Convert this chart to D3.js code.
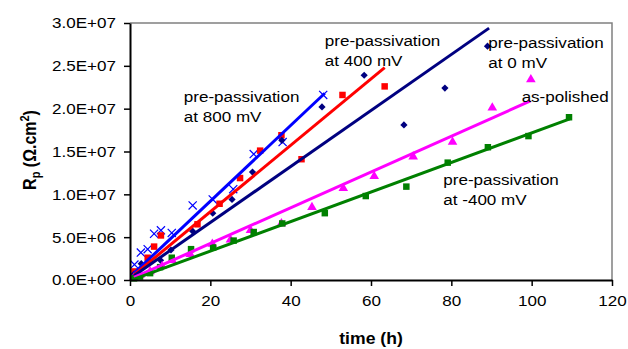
<!DOCTYPE html>
<html>
<head>
<meta charset="utf-8">
<script src="https://cdn.jsdelivr.net/npm/d3@7"></script>
<style>
  body { margin: 0; background: #fff; }
  svg { display: block; font-family: "Liberation Sans", Arial, sans-serif; }
</style>
</head>
<body>
<div id="viz"></div>
<script>
// time (h) / Rp (ohm.cm2)
let p800X = [1.1, 2.7, 4.4, 6.0, 7.7, 10.4, 15.6, 20.6, 25.7, 30.8, 38.0, 48.1];
let p800Y = [1.8e6, 3.2e6, 3.6e6, 5.4e6, 5.8e6, 5.5e6, 8.7e6, 9.4e6, 10.6e6, 14.7e6, 16.1e6, 21.6e6];

let p400X = [1.1, 4.4, 6.0, 7.7, 16.8, 22.3, 27.4, 32.4, 37.7, 42.7, 52.9, 63.4];
let p400Y = [1.0e6, 2.6e6, 3.9e6, 5.2e6, 6.5e6, 8.9e6, 11.9e6, 15.1e6, 16.9e6, 14.1e6, 21.6e6, 22.6e6];

let p0X = [1.0, 2.8, 5.0, 7.6, 10.2, 15.6, 20.6, 25.4, 30.5, 37.8, 47.8, 58.3, 68.2, 78.4, 89.0];
let p0Y = [0.7e6, 1.9e6, 2.2e6, 2.3e6, 3.5e6, 5.7e6, 7.8e6, 9.4e6, 12.6e6, 16.3e6, 20.2e6, 23.9e6, 18.1e6, 22.4e6, 27.3e6];

let polX = [1.0, 2.5, 5.0, 8.0, 10.5, 15.0, 20.5, 25.0, 30.0, 37.7, 45.3, 53.1, 60.8, 70.5, 80.3, 90.2, 99.8];
let polY = [0.3e6, 0.6e6, 1.0e6, 1.6e6, 2.3e6, 3.0e6, 4.2e6, 4.7e6, 5.8e6, 6.6e6, 8.5e6, 10.7e6, 12.1e6, 14.4e6, 16.1e6, 20.1e6, 23.4e6];

let m400X = [1.0, 2.5, 5.0, 7.5, 10.4, 15.2, 20.7, 25.8, 30.8, 37.9, 48.5, 58.7, 68.8, 79.1, 89.1, 99.2, 109.3];
let m400Y = [0.2e6, 0.4e6, 0.8e6, 1.5e6, 2.6e6, 3.6e6, 3.8e6, 4.6e6, 5.6e6, 6.6e6, 7.8e6, 9.8e6, 10.9e6, 13.7e6, 15.5e6, 16.8e6, 19.0e6];

// trend lines: [x start, y start, x end, y end]
let trend800 = [1, 0.8e6, 48.5, 21.8e6];
let trend400 = [1, 0.6e6, 63.4, 24.8e6];
let trend0 = [1, 0.5e6, 89.4, 29.4e6];
let trendPol = [1, 0.3e6, 99.7, 20.9e6];
let trendM400 = [1, 0.1e6, 109.5, 18.8e6];

let xTicks = [0, 20, 40, 60, 80, 100, 120];
let yTicks = [0, 5e6, 10e6, 15e6, 20e6, 25e6, 30e6];

let notes = [
  {x: 13.4, y: 21.4e6, lines: ['pre-passivation', 'at 800 mV']},
  {x: 48.5, y: 28.0e6, lines: ['pre-passivation', 'at 400 mV']},
  {x: 89.2, y: 27.7e6, lines: ['pre-passivation', 'at 0 mV']},
  {x: 97.5, y: 21.4e6, lines: ['as-polished']},
  {x: 78.0, y: 11.7e6, lines: ['pre-passivation', 'at -400 mV']}
];

let width = 628, height = 349;
let sx = 1.1; // the picture is a bit wider than tall
let fs = 15.5;

let x = d3.scaleLinear().domain([0, 120]).range([130, 612]);
let y = d3.scaleLinear().domain([0, 3e7]).range([280, 23]);

let svg = d3.select('#viz').append('svg')
  .attr('width', width)
  .attr('height', height);

// plot frame (gray top/right)
svg.append('path')
  .attr('d', `M${x(0)},${y(3e7)}H${x(120)}V${y(0)}`)
  .attr('fill', 'none')
  .attr('stroke', '#808080')
  .attr('stroke-width', 1.5);

let series = [
  {xs: p800X, ys: p800Y, t: trend800, color: '#0000ff', mark: 'cross'},
  {xs: p400X, ys: p400Y, t: trend400, color: '#ff0000', mark: 'square'},
  {xs: p0X, ys: p0Y, t: trend0, color: '#000080', mark: 'diamond'},
  {xs: polX, ys: polY, t: trendPol, color: '#ff00ff', mark: 'triangle'},
  {xs: m400X, ys: m400Y, t: trendM400, color: '#008000', mark: 'square'}
];

let symbols = {
  square: d3.symbol().type(d3.symbolSquare).size(42),
  diamond: d3.symbol().type(d3.symbolSquare).size(26),
  triangle: d3.symbol().type(d3.symbolTriangle).size(40),
  cross: d3.symbol().type(d3.symbolX).size(45)
};

series.forEach(function(s) {
  let pts = s.xs.map(function(v, i) { return [v, s.ys[i]]; });
  let g = svg.append('g');
  g.selectAll('path').data(pts)
    .enter().append('path')
      .attr('transform', function(d) {
        return 'translate(' + x(d[0]) + ',' + y(d[1]) + ')' + (s.mark == 'diamond' ? ' rotate(45)' : '');
      })
      .attr('d', symbols[s.mark])
      .attr('fill', s.mark == 'cross' ? 'none' : s.color)
      .attr('stroke', s.mark == 'cross' ? s.color : 'none')
      .attr('stroke-width', 1.2);
});

series.forEach(function(s) {
  svg.append('line')
    .attr('x1', x(s.t[0])).attr('y1', y(s.t[1]))
    .attr('x2', x(s.t[2])).attr('y2', y(s.t[3]))
    .attr('stroke', s.color)
    .attr('stroke-width', 3);
});

// axes
let xAxis = svg.append('g')
  .attr('transform', 'translate(0,' + y(0) + ')')
  .call(d3.axisBottom(x).tickValues(xTicks).tickSize(6).tickPadding(9).tickSizeOuter(0));
let yAxis = svg.append('g')
  .attr('transform', 'translate(' + x(0) + ',0)')
  .call(d3.axisLeft(y).tickValues(yTicks).tickSize(6).tickPadding(8).tickSizeOuter(0)
    .tickFormat(function(d) {
      let e = d3.format('.1e')(d).replace('e', 'E');
      return e.replace(/E([+-])(\d)$/, 'E$10$2');
    }));

[xAxis, yAxis].forEach(function(a) {
  a.select('.domain').attr('stroke', '#000').attr('stroke-width', 2);
  a.selectAll('.tick line').attr('stroke', '#000').attr('stroke-width', 1.5);
  a.selectAll('.tick text')
    .attr('fill', '#000')
    .style('font-size', fs + 'px')
    .style('font-family', '"Liberation Sans", Arial, sans-serif');
});
xAxis.selectAll('.tick text').attr('transform', 'scale(' + sx + ',1)')
  .attr('x', 0);
yAxis.selectAll('.tick text').attr('transform', 'scale(' + sx + ',1)')
  .attr('x', -14 / sx);

// annotations
notes.forEach(function(n) {
  n.lines.forEach(function(t, i) {
    svg.append('text')
      .attr('transform', 'translate(' + x(n.x) + ',' + (y(n.y) + i * 20) + ') scale(' + sx + ',1)')
      .attr('dy', '0.35em')
      .style('font-size', fs + 'px')
      .attr('fill', '#000')
      .text(t);
  });
});

// axis titles
svg.append('text')
  .attr('transform', 'translate(' + ((x(0) + x(120)) / 2) + ',338) scale(' + sx + ',1)')
  .attr('text-anchor', 'middle')
  .attr('dy', '0.35em')
  .style('font-size', '16px')
  .style('font-weight', 'bold')
  .text('time (h)');

let yt = svg.append('text')
  .attr('transform', 'translate(36,150) rotate(-90) scale(1,' + sx + ')')
  .attr('text-anchor', 'middle')
  .style('font-size', '16px')
  .style('font-weight', 'bold');
yt.append('tspan').text('R');
yt.append('tspan').attr('dy', 4).style('font-size', '11px').text('p');
yt.append('tspan').attr('dy', -4).text(' (\u03A9.cm');
yt.append('tspan').attr('dy', -6).style('font-size', '11px').text('2');
yt.append('tspan').attr('dy', 6).text(')');
</script>
</body>
</html>
